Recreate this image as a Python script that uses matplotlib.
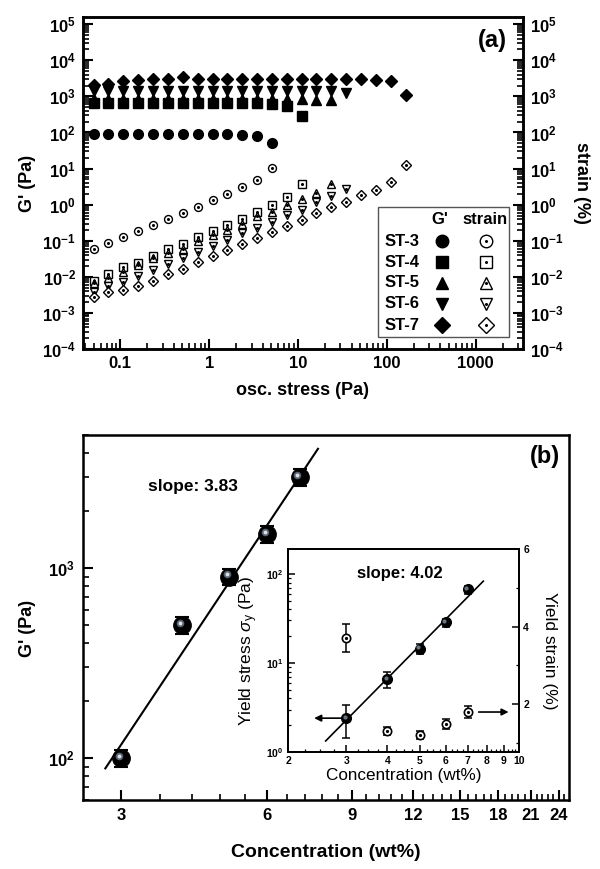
import matplotlib
matplotlib.use('Agg')
import matplotlib.pyplot as plt
import matplotlib.transforms as mtrans
from matplotlib.ticker import FixedLocator, NullFormatter, LogLocator, FuncFormatter
from matplotlib.patches import Rectangle

plt.rcParams['font.family'] = ['Liberation Sans', 'DejaVu Sans']
plt.rcParams['mathtext.fontset'] = 'custom'
plt.rcParams['mathtext.rm'] = 'Liberation Sans'
plt.rcParams['mathtext.bf'] = 'Liberation Sans:bold'
plt.rcParams['mathtext.it'] = 'Liberation Sans:italic'

# ---------------- data (a) ----------------
stress = [0.05, 0.0735, 0.108, 0.159, 0.233, 0.343, 0.504, 0.741, 1.09, 1.6, 2.35,
          3.46, 5.08, 7.47, 11.0, 16.1, 23.7, 34.9, 51.3, 75.4, 111, 163]
samples = ['ST-3', 'ST-4', 'ST-5', 'ST-6', 'ST-7']
g_st3 = [92, 92, 92, 90, 92, 92, 92, 91, 90, 88, 85, 80, 50]
g_st4 = [650, 650, 660, 650, 660, 650, 650, 650, 650, 650, 650, 640, 600, 540, 290]
g_st5 = [850, 850, 860, 850, 860, 850, 860, 850, 850, 850, 850, 850, 850, 840, 830, 820, 800]
g_st6 = [1400, 1400, 1400, 1400, 1400, 1400, 1400, 1400, 1400, 1400, 1400, 1400, 1400,
         1400, 1400, 1400, 1400, 1260]
g_st7 = [2100, 2200, 2700, 2900, 3100, 3100, 3400, 3000, 3000, 3000, 3000, 3000, 3000,
         3000, 3000, 3000, 3000, 3000, 3000, 2900, 2700, 1080]
s_st3 = [0.059, 0.086, 0.126, 0.19, 0.27, 0.41, 0.6, 0.88, 1.32, 1.98, 3.0, 4.9, 10.4]
s_st4 = [0.0077, 0.012, 0.0186, 0.024, 0.038, 0.059, 0.081, 0.124, 0.19, 0.27, 0.41,
         0.63, 0.98, 1.6, 3.7]
s_st5 = [0.0069, 0.0093, 0.014, 0.021, 0.033, 0.045, 0.06, 0.1, 0.14, 0.2, 0.3, 0.47,
         0.64, 1.0, 1.4, 2.1, 3.7]
s_st6 = [0.0039, 0.0056, 0.0074, 0.0107, 0.0158, 0.023, 0.034, 0.05, 0.072, 0.107, 0.16,
         0.23, 0.34, 0.53, 0.73, 1.16, 1.7, 2.7]
s_st7 = [0.0027, 0.0037, 0.0042, 0.0056, 0.0079, 0.0118, 0.016, 0.026, 0.038, 0.056,
         0.081, 0.12, 0.17, 0.26, 0.37, 0.59, 0.84, 1.19, 1.8, 2.6, 4.3, 12.8]
g_series = [g_st3, g_st4, g_st5, g_st6, g_st7]
s_series = [s_st3, s_st4, s_st5, s_st6, s_st7]
markers = ['o', 's', '^', 'v', 'D']

# ---------------- data (b) ----------------
conc = [3, 4, 5, 6, 7]
g_conc = [100, 500, 900, 1500, 3000]
g_err = [10, 50, 90, 150, 300]
fit_main_x = [2.78, 7.64]
fit_main_y = [88, 4230]

yield_stress = [2.4, 6.6, 14.4, 28.5, 67]
yield_stress_err = [0.95, 1.4, 1.8, 3.0, 7.0]
yield_strain = [3.7, 1.31, 1.2, 1.49, 1.8]
yield_strain_err = [0.36, 0.1, 0.1, 0.12, 0.15]
fit_in_x = [2.6, 7.8]
fit_in_y = [1.33, 83]

fig = plt.figure(figsize=(6, 8.69), dpi=100)
W, H = 600, 869


def ax_rect(l, t, r, b):
    return [l / W, 1 - b / H, (r - l) / W, (b - t) / H]


def pow_fmt(v, pos):
    import math
    e = int(round(math.log10(v)))
    return r'$\mathbf{10^{%d}}$' % e


# ================= panel (a) =================
ax1 = fig.add_axes(ax_rect(83, 17, 523, 349))
ax1.set_xscale('log')
ax1.set_yscale('log')
ax1.set_xlim(0.038, 3400)
ax1.set_ylim(1e-4, 10 ** 5.2)
ax1r = ax1.twinx()
ax1r.set_yscale('log')
ax1r.set_ylim(1e-4, 10 ** 5.2)

for g, s, m in zip(g_series, s_series, markers):
    ms = 7 if m != 'D' else 6
    ax1.plot(stress[:len(g)], g, linestyle='none', marker=m, color='black',
             markersize=ms, zorder=3)
    ax1r.plot(stress[:len(s)], s, linestyle='none', marker=m, markerfacecolor='white',
              markeredgecolor='black', markeredgewidth=1.0, markersize=ms - 1.3, zorder=3)
    ax1r.plot(stress[:len(s)], s, linestyle='none', marker='o', color='black',
              markersize=1.2, zorder=4)

for a in (ax1, ax1r):
    for sp in a.spines.values():
        sp.set_linewidth(1.8)
ax1.yaxis.set_major_locator(LogLocator(base=10, numticks=20))
ax1.yaxis.set_minor_locator(LogLocator(base=10, subs=range(2, 10), numticks=20))
ax1.yaxis.set_major_formatter(FuncFormatter(pow_fmt))
ax1.yaxis.set_minor_formatter(NullFormatter())
ax1r.yaxis.set_major_locator(LogLocator(base=10, numticks=20))
ax1r.yaxis.set_minor_locator(LogLocator(base=10, subs=range(2, 10), numticks=20))
ax1r.yaxis.set_major_formatter(FuncFormatter(pow_fmt))
ax1r.yaxis.set_minor_formatter(NullFormatter())
ax1.xaxis.set_major_locator(FixedLocator([0.1, 1, 10, 100, 1000]))
ax1.xaxis.set_major_formatter(FuncFormatter(lambda v, p: ('%g' % v)))
ax1.xaxis.set_minor_locator(LogLocator(base=10, subs=range(2, 10), numticks=20))
ax1.xaxis.set_minor_formatter(NullFormatter())

ax1.tick_params(axis='both', which='major', direction='in', length=7, width=1.5,
                labelsize=12, pad=5)
ax1.tick_params(axis='both', which='minor', direction='in', length=4, width=1.2)
ax1.tick_params(axis='y', which='both', right=False)
ax1.tick_params(axis='x', which='both', top=False)
ax1r.tick_params(axis='y', which='major', direction='in', length=7, width=1.5,
                 labelsize=12, pad=5)
ax1r.tick_params(axis='y', which='minor', direction='in', length=4, width=1.2)
for lab in ax1.get_xticklabels():
    lab.set_fontweight('bold')

ax1.set_xlabel('osc. stress (Pa)', fontsize=13, fontweight='bold')
ax1.set_ylabel("G' (Pa)", fontsize=13, fontweight='bold')
ax1r.set_ylabel('strain (%)', fontsize=13, fontweight='bold', rotation=-90)
ax1.xaxis.set_label_coords(0.5, -0.10)
ax1.yaxis.set_label_coords(-0.107, 0.5)
ax1r.yaxis.set_label_coords(1.152, 0.5)
ax1.text(0.93, 0.93, '(a)', transform=ax1.transAxes, fontsize=17, fontweight='bold',
         ha='center', va='center')

# manual legend
ax1r.add_patch(Rectangle((0.670, 0.036), 0.298, 0.392, transform=ax1r.transAxes,
                         facecolor='white', edgecolor='#555555', linewidth=1.0, zorder=5))
ax1r.text(0.811, 0.389, "G'", transform=ax1r.transAxes, fontsize=12, fontweight='bold',
          ha='center', va='center', zorder=6)
ax1r.text(0.914, 0.389, 'strain', transform=ax1r.transAxes, fontsize=12,
          fontweight='bold', ha='center', va='center', zorder=6)
row_y = [0.325, 0.262, 0.199, 0.136, 0.072]
for name, m, yy in zip(samples, markers, row_y):
    ms = 9 if m != 'D' else 8
    ax1r.text(0.725, yy, name, transform=ax1r.transAxes, fontsize=12, fontweight='bold',
              ha='center', va='center', zorder=6)
    ax1r.plot([0.816], [yy], transform=ax1r.transAxes, marker=m, color='black',
              markersize=ms, linestyle='none', zorder=6, clip_on=False)
    ax1r.plot([0.916], [yy], transform=ax1r.transAxes, marker=m, markerfacecolor='white',
              markeredgecolor='black', markeredgewidth=1.0, markersize=ms,
              linestyle='none', zorder=6, clip_on=False)
    ax1r.plot([0.916], [yy], transform=ax1r.transAxes, marker='o', color='black',
              markersize=1.2, linestyle='none', zorder=7, clip_on=False)

# ================= panel (b) =================
ax2 = fig.add_axes(ax_rect(83, 435, 569, 800))
ax2.set_xscale('log')
ax2.set_yscale('log')
ax2.set_xlim(2.5, 25.2)
ax2.set_ylim(60, 5000)
for sp in ax2.spines.values():
    sp.set_linewidth(1.8)

ax2.plot(fit_main_x, fit_main_y, color='black', linewidth=1.5, zorder=2)
ax2.errorbar(conc, g_conc, yerr=g_err, fmt='none', ecolor='black', elinewidth=1.5,
             capsize=5, capthick=1.5, zorder=3)
ax2.plot(conc, g_conc, linestyle='none', marker='o', color='black', markersize=12.5,
         zorder=4)
hl1 = mtrans.offset_copy(ax2.transData, fig=fig, x=-1.6, y=1.6, units='points')
ax2.plot(conc, g_conc, linestyle='none', marker='o', color='#5a6470', markersize=5.5,
         markeredgewidth=0, transform=hl1, zorder=5)
ax2.plot(conc, g_conc, linestyle='none', marker='o', color='#d8e0e8', markersize=2.8,
         markeredgewidth=0, transform=hl1, zorder=6)

ax2.xaxis.set_major_locator(FixedLocator([3, 6, 9, 12, 15, 18, 21, 24]))
ax2.xaxis.set_major_formatter(FuncFormatter(lambda v, p: '%d' % v))
ax2.xaxis.set_minor_locator(FixedLocator([3 + 0.6 * k for k in range(1, 37) if k % 5 != 0]))
ax2.xaxis.set_minor_formatter(NullFormatter())
ax2.yaxis.set_major_locator(LogLocator(base=10, numticks=10))
ax2.yaxis.set_minor_locator(LogLocator(base=10, subs=range(2, 10), numticks=10))
ax2.yaxis.set_major_formatter(FuncFormatter(pow_fmt))
ax2.yaxis.set_minor_formatter(NullFormatter())
ax2.tick_params(axis='both', which='major', direction='in', length=7, width=1.5,
                labelsize=12, pad=6, top=False, right=False)
ax2.tick_params(axis='both', which='minor', direction='in', length=4, width=1.2,
                top=False, right=False)
for lab in ax2.get_xticklabels():
    lab.set_fontweight('bold')
ax2.set_xlabel('Concentration (wt%)', fontsize=14, fontweight='bold')
ax2.set_ylabel("G' (Pa)", fontsize=13, fontweight='bold')
ax2.xaxis.set_label_coords(0.5, -0.12)
ax2.yaxis.set_label_coords(-0.097, 0.47)
ax2.text(0.95, 0.94, '(b)', transform=ax2.transAxes, fontsize=17, fontweight='bold',
         ha='center', va='center')
ax2.text(0.226, 0.858, 'slope: 3.83', transform=ax2.transAxes, fontsize=12.5,
         fontweight='bold', ha='center', va='center')

# ================= inset =================
ax3 = fig.add_axes(ax_rect(288, 549, 519, 752))
ax3.set_xscale('log')
ax3.set_yscale('log')
ax3.set_xlim(2, 10)
ax3.set_ylim(1, 10 ** 2.28)
ax3r = ax3.twinx()
ax3r.set_ylim(0.77, 6)
for a in (ax3, ax3r):
    for sp in a.spines.values():
        sp.set_linewidth(1.3)

ax3.plot(fit_in_x, fit_in_y, color='black', linewidth=1.2, zorder=2)
ax3.errorbar(conc, yield_stress, yerr=yield_stress_err, fmt='none', ecolor='black',
             elinewidth=1.1, capsize=3, capthick=1.1, zorder=3)
ax3.plot(conc, yield_stress, linestyle='none', marker='o', color='black', markersize=7,
         zorder=4)
hl2 = mtrans.offset_copy(ax3.transData, fig=fig, x=-1.0, y=1.0, units='points')
ax3.plot(conc, yield_stress, linestyle='none', marker='o', color='#6a7480',
         markersize=3, markeredgewidth=0, transform=hl2, zorder=5)
ax3r.errorbar(conc, yield_strain, yerr=yield_strain_err, fmt='none', ecolor='black',
              elinewidth=1.1, capsize=3, capthick=1.1, zorder=3)
ax3r.plot(conc, yield_strain, linestyle='none', marker='o', markerfacecolor='white',
          markeredgecolor='black', markeredgewidth=1.2, markersize=6, zorder=4)
ax3r.plot(conc, yield_strain, linestyle='none', marker='o', color='black',
          markersize=1.3, zorder=5)

ax3.annotate('', xy=(2.4, yield_stress[0]), xytext=(2.98, yield_stress[0]),
             arrowprops=dict(arrowstyle='-|>', color='black', lw=1.2,
                             mutation_scale=10, shrinkA=0, shrinkB=0))
ax3r.annotate('', xy=(9.3, yield_strain[4]), xytext=(7.55, yield_strain[4]),
              arrowprops=dict(arrowstyle='-|>', color='black', lw=1.2,
                              mutation_scale=10, shrinkA=0, shrinkB=0))

ax3.xaxis.set_major_locator(FixedLocator([2, 3, 4, 5, 6, 7, 8, 9, 10]))
ax3.xaxis.set_major_formatter(FuncFormatter(lambda v, p: '%d' % v))
ax3.xaxis.set_minor_locator(FixedLocator([2 + 0.25 * k for k in range(1, 32) if k % 4 != 0]))
ax3.xaxis.set_minor_formatter(NullFormatter())
ax3.yaxis.set_major_locator(LogLocator(base=10, numticks=10))
ax3.yaxis.set_minor_locator(LogLocator(base=10, subs=range(2, 10), numticks=10))
ax3.yaxis.set_major_formatter(FuncFormatter(pow_fmt))
ax3.yaxis.set_minor_formatter(NullFormatter())
ax3.tick_params(axis='both', which='major', direction='in', length=5, width=1.1,
                labelsize=7.5, pad=3, top=False, right=False)
ax3.tick_params(axis='both', which='minor', direction='in', length=2.5, width=0.9,
                top=False, right=False)
for lab in ax3.get_xticklabels():
    lab.set_fontweight('bold')
ax3r.yaxis.set_major_locator(FixedLocator([2, 4, 6]))
ax3r.yaxis.set_minor_locator(FixedLocator([1, 3, 5]))
ax3r.yaxis.set_major_formatter(FuncFormatter(lambda v, p: '%d' % v))
ax3r.tick_params(axis='y', which='major', direction='in', length=5, width=1.1,
                 labelsize=7.5, pad=3)
ax3r.tick_params(axis='y', which='minor', direction='in', length=2.5, width=0.9)
for lab in ax3r.get_yticklabels():
    lab.set_fontweight('bold')

ax3.set_xlabel('Concentration (wt%)', fontsize=12.3)
ax3.set_ylabel(r'Yield stress $\sigma_{\mathrm{y}}$ (Pa)', fontsize=12.5)
ax3r.set_ylabel('Yield strain (%)', fontsize=12.5, rotation=-90)
ax3.xaxis.set_label_coords(0.5, -0.08)
ax3.yaxis.set_label_coords(-0.121, 0.5)
ax3r.yaxis.set_label_coords(1.164, 0.5)
ax3.text(0.485, 0.877, 'slope: 4.02', transform=ax3.transAxes, fontsize=12,
         fontweight='bold', ha='center', va='center')

fig.savefig('out.png', dpi=100)
